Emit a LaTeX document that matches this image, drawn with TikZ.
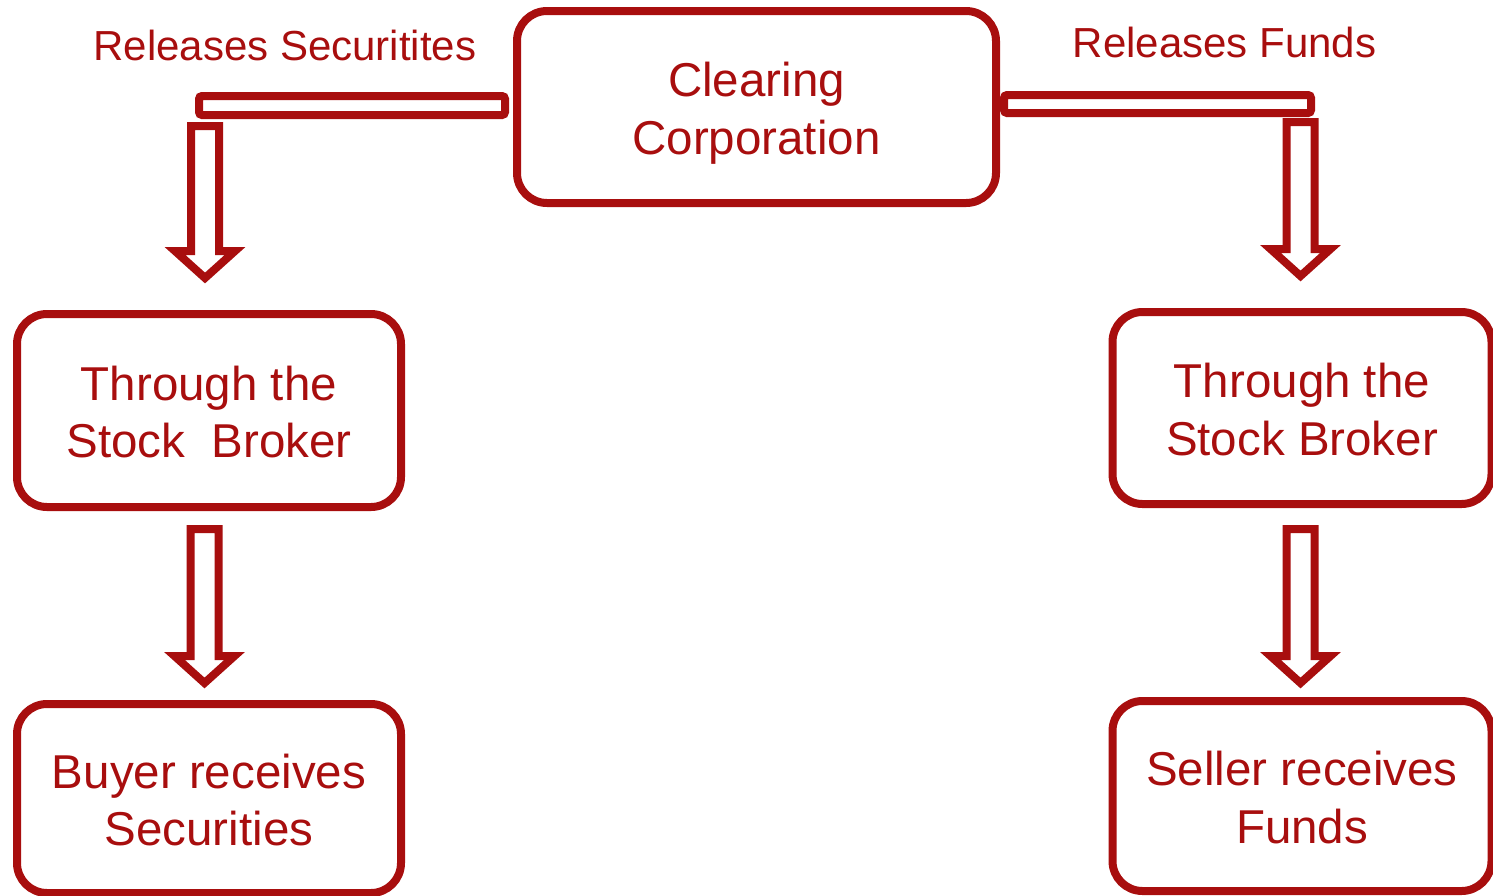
\documentclass[tikz,border=0pt]{standalone}
\usepackage{fontspec}
\setmainfont{Liberation Sans}
\usetikzlibrary{calc}
\definecolor{dred}{RGB}{168,14,14}
\newcommand\bline[1]{\smash{#1}\rule[-1pt]{0pt}{39pt}}
\newcommand\blockdown[3]{%
  \draw[blockarrow] (#1-14,#2) -- (#1+14,#2) -- (#1+14,#3-27) -- (#1+30,#3-27)
    -- (#1,#3) -- (#1-30,#3-27) -- (#1-14,#3-27) -- cycle;}
\begin{document}
\begin{tikzpicture}[x=1pt,y=-1pt,
  box/.style={draw=dred, line width=8pt, rounded corners=30pt, inner sep=0pt,
    text=dred, align=center, font=\fontsize{47.5}{57.5}\selectfont},
  blockarrow/.style={draw=dred, line width=8pt, line join=miter, fill=white},
  barshape/.style={draw=dred, line width=8pt, rounded corners=3pt, fill=white},
  lbl/.style={text=dred, font=\fontsize{42}{48}\selectfont, inner sep=0pt, anchor=base}]
\useasboundingbox (0,0) rectangle (1493,895);
% boxes
\node[box, minimum width=479pt, minimum height=192pt] (cc) at (756.5,107)
  {\bline{Clearing}\\\bline{Corporation}};
\node[box, minimum width=384pt, minimum height=193pt] (lm) at (209,410.5)
  {\bline{Through the}\\\bline{Stock\ \ Broker}};
\node[box, minimum width=379pt, minimum height=192pt] (rm) at (1302,408)
  {\bline{Through the}\\\bline{Stock Broker}};
\node[box, minimum width=384pt, minimum height=189pt] (bl) at (209,798.5)
  {\bline{Buyer receives}\\\bline{Securities}};
\node[box, minimum width=379pt, minimum height=190pt] (br) at (1302,796)
  {\bline{Seller receives}\\\bline{Funds}};
% labels
\node[lbl] (ls) at (285,60) {Releases Securitites};
\node[lbl] (lf) at (1224.5,57) {Releases Funds};
% connector bars
\coordinate (lbarA) at (199,96);
\coordinate (lbarB) at (505,115);
\coordinate (rbarA) at (1004,95);
\coordinate (rbarB) at (1311,113);
\draw[barshape] (lbarA) rectangle (lbarB);
\draw[barshape] (rbarA) rectangle (rbarB);
% block arrows
\blockdown{205}{126}{278}
\blockdown{204.5}{529}{683}
\blockdown{1300.5}{122}{276}
\blockdown{1300.5}{529}{683}
\end{tikzpicture}
\end{document}
